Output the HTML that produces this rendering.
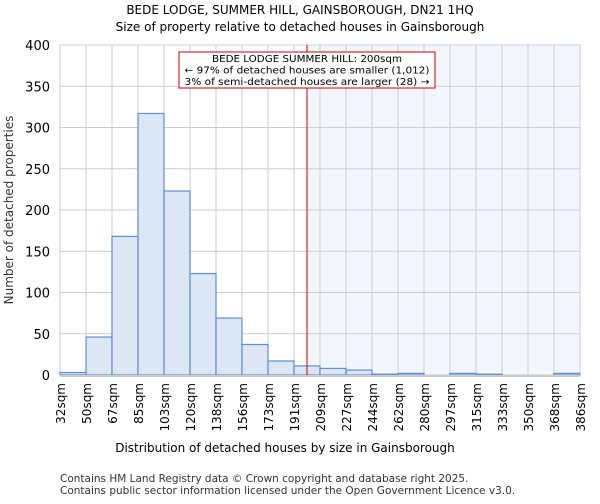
<!DOCTYPE html>
<html><head><meta charset="utf-8"><style>
body{margin:0;background:#fff;font-family:"DejaVu Sans","Liberation Sans",sans-serif}
svg text{font-family:"DejaVu Sans","Liberation Sans",sans-serif}
</style></head><body>
<svg id="c" width="600" height="500">
<text x="300" y="14" text-anchor="middle" font-size="12">BEDE LODGE, SUMMER HILL, GAINSBOROUGH, DN21 1HQ</text>
<text x="300" y="31" text-anchor="middle" font-size="12">Size of property relative to detached houses in Gainsborough</text>
<g id="plot"></g>
<text x="285" y="452" text-anchor="middle" font-size="12">Distribution of detached houses by size in Gainsborough</text>
<text transform="translate(13,210) rotate(-90)" text-anchor="middle" font-size="12" fill="#333">Number of detached properties</text>
<text x="60" y="482" font-size="10.5" fill="#333">Contains HM Land Registry data © Crown copyright and database right 2025.</text>
<text x="60" y="494" font-size="10.5" fill="#333">Contains public sector information licensed under the Open Government Licence v3.0.</text>
</svg>
<script>
const binLabels=["32sqm","50sqm","67sqm","85sqm","103sqm","120sqm","138sqm","156sqm","173sqm","191sqm","209sqm","227sqm","244sqm","262sqm","280sqm","297sqm","315sqm","333sqm","350sqm","368sqm","386sqm"];
const binEdges=[32,50,67,85,103,120,138,156,173,191,209,227,244,262,280,297,315,333,350,368,386];
const counts=[3,46,168,317,223,123,69,37,17,11,8,6,1,2,0,2,1,0,0,2];
const yTicks=[0,50,100,150,200,250,300,350,400];
const markerSize=200;
const ns="http://www.w3.org/2000/svg";
const X0=60,X1=580,Y0=375,Y1=45;
const nb=counts.length;
const bw=(X1-X0)/nb;
function xi(i){return X0+i*bw;}
function xv(v){let i=0;while(i<binEdges.length-2&&v>binEdges[i+1])i++;return xi(i)+(v-binEdges[i])/(binEdges[i+1]-binEdges[i])*bw;}
function y(v){return Y0-(v/400)*(Y0-Y1);}
const g=document.getElementById('plot');
function mk(t,a,p){const e=document.createElementNS(ns,t);for(const k in a)e.setAttribute(k,a[k]);(p||g).appendChild(e);return e;}
const mx=xv(markerSize);
let r=mk('rect',{x:mx,y:Y1,width:X1-mx,height:Y0-Y1,fill:'#f3f6fd'});


for(let i=0;i<=nb;i++){let l=mk('line',{x1:xi(i),x2:xi(i),y1:Y1,y2:Y0,stroke:'#cccccc'});

}
yTicks.forEach(t=>{let l=mk('line',{x1:X0,x2:X1,y1:y(t),y2:y(t),stroke:'#cccccc'});


let tx=mk('text',{x:X0-10,y:y(t)+5,'text-anchor':'end','font-size':13});tx.textContent=t;

});
counts.forEach((c,i)=>{let b=mk('rect',{x:xi(i),y:y(c),width:bw,height:Y0-y(c),fill:'#dce6f4',stroke:'#5b8fd4','stroke-width':1.2});

});
let ax=mk('line',{x1:X0,x2:X1,y1:Y0+1,y2:Y0+1,stroke:'#cccccc','stroke-width':2});


binLabels.forEach((s,i)=>{let t=mk('text',{transform:`translate(${xi(i)+5},${Y0+8}) rotate(-90)`,'text-anchor':'end','font-size':12});t.textContent=s;

});
let ml=mk('line',{x1:mx,x2:mx,y1:Y1,y2:Y0,stroke:'#cc0000','stroke-width':1});


let box=mk('rect',{x:179,y:52,width:256,height:36,fill:'#fff',stroke:'#cc0000'});


["BEDE LODGE SUMMER HILL: 200sqm","← 97% of detached houses are smaller (1,012)","3% of semi-detached houses are larger (28) →"].forEach((s,i)=>{let t=mk('text',{x:307,y:62+i*11.5,'text-anchor':'middle','font-size':10,'textLength':i==0?190:245,'lengthAdjust':'spacingAndGlyphs'});t.textContent=s;

});
</script>
</body></html>
